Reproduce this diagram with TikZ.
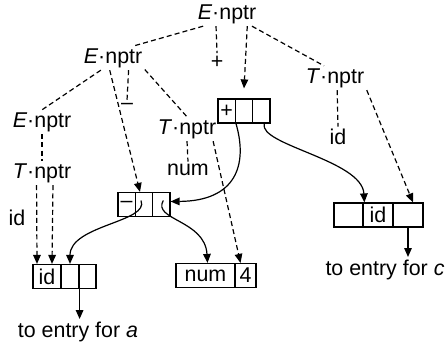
\documentclass[tikz,border=0pt]{standalone}
\usepackage{fontspec}
\setmainfont{Liberation Sans}
\usetikzlibrary{arrows.meta}

\begin{document}
\begin{tikzpicture}[x=0.5pt, y=-0.5pt, font=\fontsize{10.7}{12.5}\selectfont, line width=0.6pt]
    % Node styles
    \tikzset{
      attr/.style={inner sep=1pt},
      cell/.style={draw, inner sep=0pt, minimum height=12pt},
      tree/.style={dash pattern=on 2.5pt off 1.6pt},
      ptr/.style={-{Triangle[length=4.5pt,width=3.8pt]}}
    }
    \useasboundingbox (0,0) rectangle (446,343);

    % Parse tree attributes
    \node[attr] (E0) at (227,14) {\textit{E}·nptr};
    \node[attr] (E2) at (113,58) {\textit{E}·nptr};
    \node[attr] (plus) at (217,62) {+};
    \node[attr] (T3) at (335,78) {\textit{T}·nptr};
    \node[attr] (minus) at (127,106) {–};
    \node[attr] (E1) at (42,122) {\textit{E}·nptr};
    \node[attr] (T2) at (187,129) {\textit{T}·nptr};
    \node[attr] (idc) at (338,137) {id};
    \node[attr] (num) at (188,170) {num};
    \node[attr] (T1) at (42,173) {\textit{T}·nptr};
    \node[attr] (ida) at (17,218) {id};

    % Syntax tree cells
    \node[cell, minimum width=8.67pt] (p1) at (226.7,111) {+};
    \node[cell, minimum width=8.67pt] (p2) at (244,111) {};
    \node[cell, minimum width=8.67pt] (p3) at (261.3,111) {};

    \node[cell, minimum width=8.67pt] (m1) at (126.7,204.5) {–};
    \node[cell, minimum width=8.67pt] (m2) at (144,204.5) {};
    \node[cell, minimum width=8.67pt] (m3) at (161.3,204.5) {};

    \node[cell, minimum width=14pt] (a1) at (47,276.5) {id};
    \node[cell, minimum width=9pt] (a2) at (70,276.5) {};
    \node[cell, minimum width=8.5pt] (a3) at (87.5,276.5) {};

    \node[cell, minimum width=29.5pt] (n1) at (205.5,275.5) {num};
    \node[cell, minimum width=10.5pt] (n2) at (245.5,275.5) {4};

    \node[cell, minimum width=14.5pt] (c1) at (348.5,215) {};
    \node[cell, minimum width=15pt] (c2) at (378,215) {id};
    \node[cell, minimum width=15pt] (c3) at (408,215) {};

    % Symbol table entries
    \node[attr, anchor=north] (entrya) at (78,319) {to entry for \textit{a}};
    \node[attr, anchor=north] (entryc) at (385,257) {to entry for \textit{c}};

    % Dashed tree edges
    \draw[tree] (E0.-153) -- (E2.30);
    \draw[tree] (E0.-132) -- (plus.north);
    \draw[tree] (E0.-26) -- (T3.132);
    \draw[tree] (E2.-135) -- (E1.north);
    \draw[tree] (E2.-38) -- (minus.north);
    \draw[tree] (E2.-20) -- (T2.north);
    \draw[tree] (E1.south) -- (T1.north);
    \draw[tree] (T2.south) -- (num.north);
    \draw[tree] (T3.-80) -- (idc.north);

    % Dashed nptr pointers
    \draw[tree, ptr] (E0.-31) -- ([yshift=5pt]p2.north);
    \draw[tree, ptr] (E2.-105) -- ([xshift=-2pt]m2.north);
    \draw[tree, ptr] (T1.-114) -- ([xshift=-5pt]a1.north);
    \draw[tree, ptr] (T1.-48) -- ([xshift=2.5pt]a1.north);
    \draw[tree, ptr] (T2.-25) -- ([xshift=-2.5pt]n2.north);
    \draw[tree, ptr] (T3.south east) -- ([xshift=2.5pt]c3.north);

    % Solid child pointers
    \draw[ptr] ([xshift=-4pt]p2.south) .. controls (248,165) and (236,201) .. ([yshift=1.5pt]m3.east);
    \draw[ptr] ([xshift=1.5pt]p3.south) .. controls (258,145) and (362,160) .. ([xshift=1pt]c2.north west);
    \draw[ptr] ([xshift=-1.5pt,yshift=2pt]m2.center) .. controls (150,222) and (70,225) .. (a2.north);
    \draw[ptr] ([xshift=1pt,yshift=2pt]m3.center) .. controls (152,220) and (205,220) .. ([xshift=1pt]n1.north);
    \draw[ptr] (a2.south east) -- (a2.south east |- entrya.north);
    \draw[ptr] (c3.south) -- (c3.south |- entryc.north);
\end{tikzpicture}
\end{document}
